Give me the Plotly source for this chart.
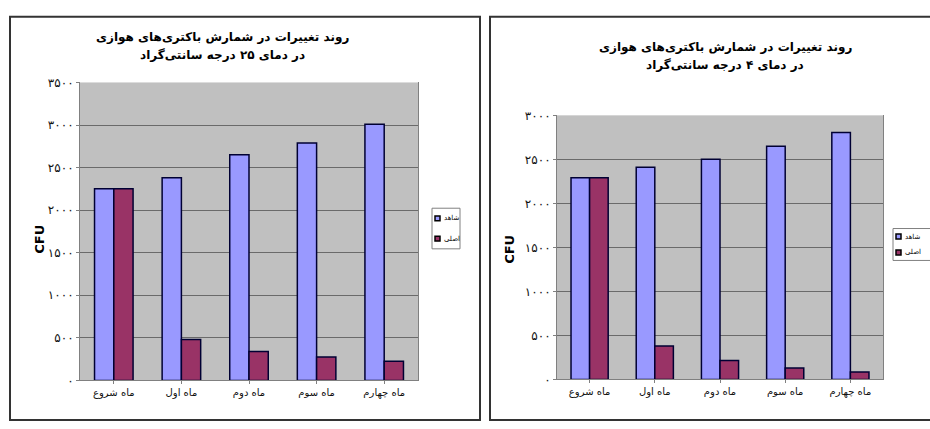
import plotly.graph_objects as go

categories = ["ماه شروع", "ماه اول", "ماه دوم", "ماه سوم", "ماه چهارم"]
series_names = ["شاهد", "اصلی"]

# Left chart: 25 °C
left_control = [2250, 2380, 2650, 2790, 3010]
left_main = [2250, 480, 340, 275, 225]
# Right chart: 4 °C
right_control = [2290, 2410, 2500, 2650, 2805]
right_main = [2290, 380, 215, 130, 85]

left_ticks = [0, 500, 1000, 1500, 2000, 2500, 3000, 3500]
right_ticks = [0, 500, 1000, 1500, 2000, 2500, 3000]

left_title = ["روند تغییرات در شمارش باکتری‌های هوازی", "در دمای ۲۵ درجه سانتی‌گراد"]
right_title = ["روند تغییرات در شمارش باکتری‌های هوازی", "در دمای ۴ درجه سانتی‌گراد"]
y_title = "CFU"

FA_DIGITS = str.maketrans("0123456789", "۰۱۲۳۴۵۶۷۸۹")
def fa(n):
    return str(n).translate(FA_DIGITS)

W, H = 930, 429
BLUE = "#9999FF"
RED = "#993366"
COLORS = [BLUE, RED]
FONT = "DejaVu Sans"

fig = go.Figure()

for vals, i in [(left_control, 0), (left_main, 1)]:
    fig.add_trace(go.Bar(x=categories, y=vals, name=series_names[i], marker=dict(color=COLORS[i], line=dict(color="#000033", width=1.5)), xaxis="x", yaxis="y", showlegend=False))
for vals, i in [(right_control, 0), (right_main, 1)]:
    fig.add_trace(go.Bar(x=categories, y=vals, name=series_names[i], marker=dict(color=COLORS[i], line=dict(color="#000033", width=1.5)), xaxis="x2", yaxis="y2", showlegend=False))

def px_x(p):
    return p / W
def px_y(p):
    return 1 - p / H

axis_common = dict(showline=True, linecolor="#808080", linewidth=1, ticks="outside", ticklen=3, tickcolor="#808080")
xfont = dict(size=10, family=FONT, color="#111111")
yfont = dict(size=12, family=FONT, color="#111111")

fig.update_layout(
    width=W, height=H,
    margin=dict(l=0, r=0, t=0, b=0),
    paper_bgcolor="white",
    plot_bgcolor="#C0C0C0",
    barmode="group",
    bargap=0.43,
    bargroupgap=0,
    font=dict(family=FONT, color="black"),
    xaxis=dict(domain=[px_x(80), px_x(418)], anchor="y", tickfont=xfont, categoryorder="array", categoryarray=categories, **axis_common),
    yaxis=dict(domain=[px_y(386), px_y(78)], anchor="x", range=[0, 3500], tickvals=left_ticks, ticktext=[fa(t) for t in left_ticks], tickfont=yfont, showgrid=True, gridcolor="#6a6a6a", gridwidth=1, zeroline=False, mirror=True, **axis_common),
    xaxis2=dict(domain=[px_x(557), px_x(883)], anchor="y2", tickfont=xfont, categoryorder="array", categoryarray=categories, **axis_common),
    yaxis2=dict(domain=[px_y(385), px_y(112)], anchor="x2", range=[0, 3000], tickvals=right_ticks, ticktext=[fa(t) for t in right_ticks], tickfont=yfont, showgrid=True, gridcolor="#6a6a6a", gridwidth=1, zeroline=False, mirror=True, **axis_common),
    showlegend=False,
)

# titles, one annotation per line
for lines, cx, ys in [(left_title, 222, (32, 50)), (right_title, 725, (42, 60))]:
    for txt, yy in zip(lines, ys):
        fig.add_annotation(text="<b>" + txt + "</b>", x=px_x(cx), y=px_y(yy), xref="paper", yref="paper",
                           xanchor="center", yanchor="middle", showarrow=False, font=dict(size=12, family=FONT))

fig.add_annotation(text="<b>" + y_title + "</b>", x=px_x(30), y=px_y(240), xref="paper", yref="paper", showarrow=False, textangle=-90, font=dict(size=13, family=FONT))
fig.add_annotation(text="<b>" + y_title + "</b>", x=px_x(510), y=px_y(250), xref="paper", yref="paper", showarrow=False, textangle=-90, font=dict(size=13, family=FONT))

# custom legends (box, colour swatches, labels)
for bx0, by0, bx1, by1 in [(432, 208, 460, 250), (893, 229, 935, 262)]:
    fig.add_shape(type="rect", xref="paper", yref="paper", x0=px_x(bx0), x1=px_x(bx1), y0=px_y(by1), y1=px_y(by0),
                  line=dict(color="#808080", width=1), fillcolor="white")
    n = len(series_names)
    step = (by1 - by0) / n
    for i, name in enumerate(series_names):
        cy = by0 + step * (i + 0.5)
        fig.add_shape(type="rect", xref="paper", yref="paper", x0=px_x(bx0 + 3), x1=px_x(bx0 + 8),
                      y0=px_y(cy + 2.5), y1=px_y(cy - 2.5), fillcolor=COLORS[i], line=dict(color="black", width=1.5))
        fig.add_annotation(text=name, x=px_x(bx0 + 10), y=px_y(cy), xref="paper", yref="paper", xanchor="left",
                           yanchor="middle", showarrow=False, font=dict(size=7, family=FONT))

# panel borders
fig.add_shape(type="rect", xref="paper", yref="paper", x0=px_x(10), x1=px_x(480), y0=px_y(427), y1=px_y(10), line=dict(color="#333333", width=2))
fig.add_shape(type="rect", xref="paper", yref="paper", x0=px_x(490), x1=px_x(945), y0=px_y(427), y1=px_y(10), line=dict(color="#333333", width=2))

fig.write_html("out.html", config={"displayModeBar": False},
               post_script="document.body.style.margin='0';document.body.style.overflow='hidden';")
